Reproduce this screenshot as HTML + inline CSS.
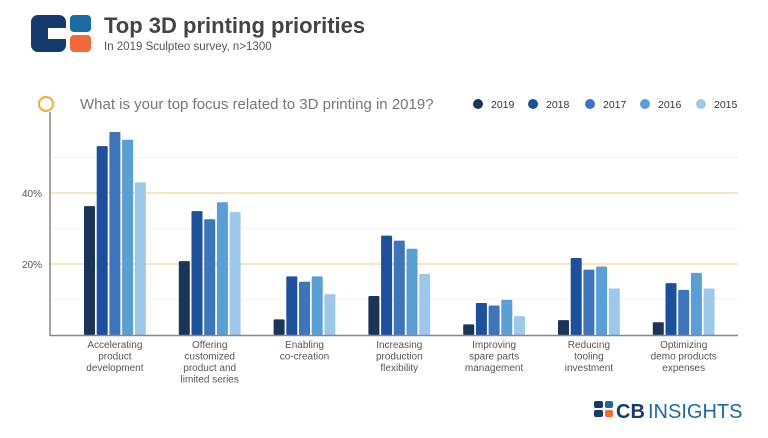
<!DOCTYPE html>
<html><head><meta charset="utf-8"><style>
body{margin:0;background:#fff;width:768px;height:433px;overflow:hidden;font-family:"Liberation Sans",sans-serif;}
</style></head><body>
<svg width="768" height="433" viewBox="0 0 768 433">
<g>
<rect x="31" y="15" width="35" height="37" rx="7" fill="#163a6b"/>
<rect x="48" y="28" width="20" height="11" fill="#fff"/>
<rect x="70" y="15" width="21" height="17" rx="4" fill="#1a6aa8"/>
<rect x="70" y="35" width="21" height="17" rx="4" fill="#f26a3a"/>
</g>
<text x="104" y="33" font-size="22" font-weight="bold" fill="#444">Top 3D printing priorities</text>
<text x="104" y="50" font-size="11.5" fill="#555">In 2019 Sculpteo survey, n&gt;1300</text>
<circle cx="46" cy="104" r="7" fill="none" stroke="#f5a742" stroke-width="2"/>
<text x="80" y="109" font-size="15" fill="#777">What is your top focus related to 3D printing in 2019?</text>
<g id="legend"></g>
<g id="grid"></g>
<g id="bars"></g>
<g id="labels"></g>
<line x1="50" y1="112" x2="50" y2="336" stroke="#888" stroke-width="1.5"/>
<line x1="50" y1="335.5" x2="738" y2="335.5" stroke="#888" stroke-width="1.5"/>
<g>
<rect x="594" y="401" width="9" height="7" rx="2" fill="#163a6b"/>
<rect x="594" y="410" width="9" height="7" rx="2" fill="#163a6b"/>
<rect x="605" y="401" width="8" height="7" rx="2" fill="#1a6aa8"/>
<rect x="605" y="410" width="8" height="7" rx="2" fill="#f26a3a"/>
<text x="616" y="418" font-size="20" font-weight="bold" fill="#163a6b">CB</text>
<text x="648" y="418" font-size="20" fill="#1a6aa8">INSIGHTS</text>
</g>
</svg>
<script>
const categories=[["Accelerating","product","development"],["Offering","customized","product and","limited series"],["Enabling","co-creation"],["Increasing","production","flexibility"],["Improving","spare parts","management"],["Reducing","tooling","investment"],["Optimizing","demo products","expenses"]];
const seriesNames=["2019","2018","2017","2016","2015"];
const v2019=[36.3,20.8,4.4,11,3,4.2,3.6];
const v2018=[53.2,34.9,16.5,28,9,21.7,14.6];
const v2017=[57.2,32.6,15,26.6,8.3,18.4,12.7];
const v2016=[55,37.4,16.5,24.3,9.9,19.3,17.5];
const v2015=[43,34.6,11.5,17.2,5.3,13.1,13.1];
const tickValues=[20,40];
const tickLabels=["20%","40%"];
const series=[v2019,v2018,v2017,v2016,v2015];
const colors=["#1a3558","#1c4f9c","#3d74bb","#5a9ed6","#9ec8eb"];
const NS="http://www.w3.org/2000/svg";
const y0=335,k=3.55;
function yS(v){return y0-v*k;}
function xS(g,s){return 84+g*94.8+s*12.7;}
const bw=11;
function mk(t,a,p){const e=document.createElementNS(NS,t);for(const q in a)e.setAttribute(q,a[q]);p.appendChild(e);return e;}
const grid=document.getElementById('grid');
[10,30,50].forEach(v=>{const l=mk('line',{x1:50,x2:738,y1:yS(v),y2:yS(v),stroke:'#f2f2f2','stroke-width':1},grid);

});
tickValues.forEach((v,i)=>{const l=mk('line',{x1:50,x2:738,y1:yS(v),y2:yS(v),stroke:'#fcd9a8','stroke-width':1.5},grid);


const t=mk('text',{x:22,y:yS(v)+4,'font-size':10,fill:'#555'},grid);t.textContent=tickLabels[i];

});
const bars=document.getElementById('bars');
series.forEach((arr,s)=>arr.forEach((v,g)=>{const r=mk('rect',{x:xS(g,s),y:yS(v),width:bw,height:v*k,rx:1,fill:colors[s]},bars);

}));
const labels=document.getElementById('labels');
categories.forEach((lines,g)=>{const cx=xS(g,2)+bw/2;lines.forEach((ln,i)=>{const t=mk('text',{x:cx,y:348+i*11.5,'font-size':10,fill:'#555','text-anchor':'middle'},labels);t.textContent=ln;

});});
const legend=document.getElementById('legend');
const lx=[478,533,590,645,701];
seriesNames.forEach((n,i)=>{const c=mk('circle',{cx:lx[i],cy:104,r:5,fill:colors[i]},legend);


const t=mk('text',{x:lx[i]+13,y:108,'font-size':10.5,fill:'#333'},legend);t.textContent=n;

});
</script>
</body></html>
